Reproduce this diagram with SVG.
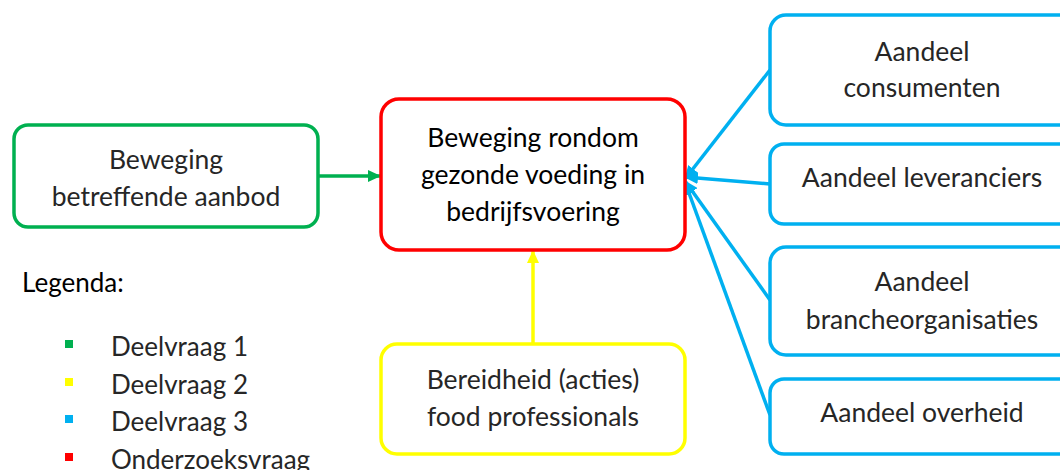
<svg xmlns="http://www.w3.org/2000/svg" width="1060" height="470" viewBox="0 0 1060 470">
<style>
.box{fill:#fff;stroke-width:3.5}
.t{font-family:Lato,"Liberation Sans",sans-serif;font-size:26.5px;fill:#262626;text-anchor:middle;font-weight:400}
.tm{font-family:Lato,"Liberation Sans",sans-serif;font-size:26.5px;fill:#000;text-anchor:middle;font-weight:400}
.lg{font-family:Lato,"Liberation Sans",sans-serif;font-size:26px;fill:#262626;font-weight:400}
</style>
<defs>
<marker id="ag" markerWidth="13" markerHeight="12" refX="12" refY="6" orient="auto" markerUnits="userSpaceOnUse" viewBox="0 0 13 12"><path d="M0,0 L13,6 L0,12 z" fill="#00b050"/></marker>
<marker id="ay" markerWidth="13" markerHeight="12" refX="12" refY="6" orient="auto" markerUnits="userSpaceOnUse" viewBox="0 0 13 12"><path d="M0,0 L13,6 L0,12 z" fill="#ffff00"/></marker>
<marker id="ab" markerWidth="14" markerHeight="12" refX="13" refY="6" orient="auto" markerUnits="userSpaceOnUse" viewBox="0 0 14 12"><path d="M0,0 L14,6 L0,12 z" fill="#00b0f0"/></marker>
</defs>
<g id="connectors" fill="none" stroke-width="3.5">
<line x1="318" y1="176" x2="380" y2="176" stroke="#00b050" marker-end="url(#ag)"/>
<line x1="533" y1="343" x2="533" y2="251" stroke="#ffff00" marker-end="url(#ay)"/>
<line x1="770" y1="70" x2="685" y2="179" stroke="#00b0f0" marker-end="url(#ab)"/>
<line x1="770" y1="184" x2="685" y2="177" stroke="#00b0f0" marker-end="url(#ab)"/>
<line x1="770" y1="300" x2="685" y2="181" stroke="#00b0f0" marker-end="url(#ab)"/>
<line x1="770" y1="415" x2="685" y2="182" stroke="#00b0f0" marker-end="url(#ab)"/>
</g>
<g id="n-aanbod">
<rect class="box" x="14" y="125" width="304" height="102" rx="14" stroke="#00b050"/>
<text class="t" x="166" y="169">Beweging</text>
<text class="t" x="166" y="206">betreffende aanbod</text>
</g>
<g id="n-main">
<rect class="box" x="381" y="99" width="304" height="151" rx="18" stroke="#ff0000"/>
<text class="tm" x="533" y="147">Beweging rondom</text>
<text class="tm" x="533" y="184">gezonde voeding in</text>
<text class="tm" x="533" y="221">bedrijfsvoering</text>
</g>
<g id="n-food">
<rect class="box" x="381" y="344" width="304" height="110" rx="16" stroke="#ffff00"/>
<text class="t" x="533" y="389">Bereidheid (acties)</text>
<text class="t" x="533" y="426">food professionals</text>
</g>
<g id="n-consumenten">
<rect class="box" x="770" y="15" width="310" height="110" rx="16" stroke="#00b0f0"/>
<text class="t" x="922" y="61">Aandeel</text>
<text class="t" x="922" y="97">consumenten</text>
</g>
<g id="n-leveranciers">
<rect class="box" x="770" y="144" width="310" height="80" rx="14" stroke="#00b0f0"/>
<text class="t" x="922" y="187">Aandeel leveranciers</text>
</g>
<g id="n-branche">
<rect class="box" x="770" y="247" width="310" height="108" rx="16" stroke="#00b0f0"/>
<text class="t" x="922" y="291">Aandeel</text>
<text class="t" x="922" y="329">brancheorganisaties</text>
</g>
<g id="n-overheid">
<rect class="box" x="770" y="379" width="310" height="75" rx="14" stroke="#00b0f0"/>
<text class="t" x="922" y="422">Aandeel overheid</text>
</g>
<g id="legend">
<text x="22" y="292" font-family="Lato,'Liberation Sans',sans-serif" font-size="26" fill="#000">Legenda:</text>
<rect x="65" y="340" width="8" height="8" fill="#00b050"/>
<rect x="65" y="378" width="8" height="8" fill="#ffff00"/>
<rect x="65" y="415" width="8" height="8" fill="#00b0f0"/>
<rect x="65" y="453" width="8" height="8" fill="#ff0000"/>
<text class="lg" x="111" y="356">Deelvraag 1</text>
<text class="lg" x="111" y="394">Deelvraag 2</text>
<text class="lg" x="111" y="431">Deelvraag 3</text>
<text class="lg" x="111" y="469">Onderzoeksvraag</text>
</g>
</svg>
